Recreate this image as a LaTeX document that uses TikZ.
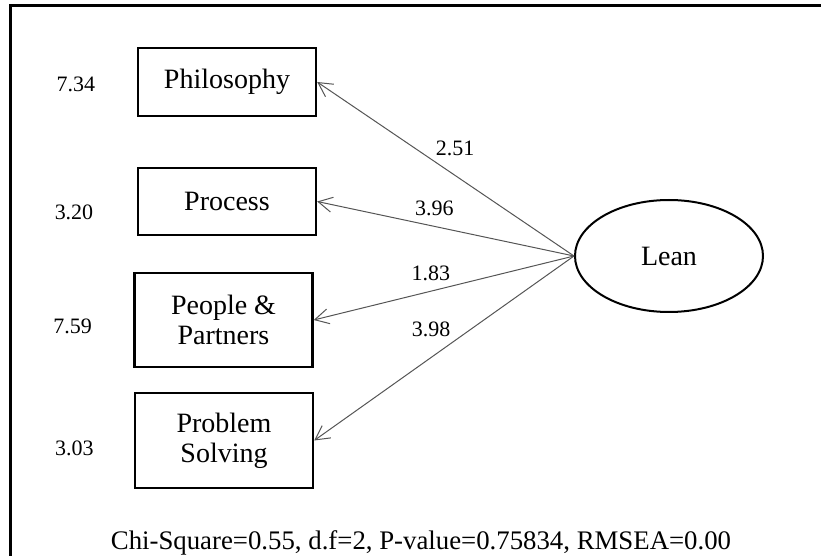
\documentclass[tikz,border=0pt]{standalone}
\usepackage{fontspec}
\setmainfont{Liberation Serif}
\usepackage{tikz}
\usetikzlibrary{arrows.meta, shapes.geometric}
\definecolor{pathgray}{RGB}{85, 85, 85}

\begin{document}
\begin{tikzpicture}[x=0.5pt, y=-0.5pt,
    obsbox/.style={draw, line width=1.2pt, minimum width=89pt, align=center,
        inner sep=0pt, font=\fontsize{14}{15}\selectfont},
    latent/.style={draw, ellipse, line width=1pt, minimum width=94pt,
        minimum height=56pt, inner sep=0pt, font=\fontsize{14}{15}\selectfont},
    errlabel/.style={inner sep=0pt, font=\fontsize{11}{13}\selectfont},
    loading/.style={draw=pathgray, line width=0.5pt,
        -{Straight Barb[length=7pt, width=7.5pt]}}]
    \useasboundingbox (0,0) rectangle (821,556);

    % frame (left and top only)
    \draw[line width=1.5pt] (10,556) -- (10,6) -- (821,6);

    % observed variables
    \node[obsbox, minimum height=34pt] (philo) at (227,82) {Philosophy};
    \node[obsbox, minimum height=33.5pt] (proc) at (227,201.5) {Process};
    \node[obsbox, minimum height=47pt] (people) at (223.5,320) {People \&\\Partners};
    \node[obsbox, minimum height=47.5pt] (prob) at (224,440.5) {Problem\\Solving};

    % error variances
    \foreach \n/\x/\y/\t in {1/76/84/7.34, 2/74/212.5/3.20, 3/72.5/326.5/7.59, 4/74.5/448/3.03}
        \node[errlabel] (err\n) at (\x,\y) {\t};

    % latent factor
    \node[latent] (lean) at (669,256) {Lean};

    % loadings
    \draw[loading] (lean.west) -- node[errlabel, pos=0.463, above=9.5pt] (l1) {2.51} (philo.east);
    \draw[loading] (lean.west) -- node[errlabel, pos=0.544, above=5pt] (l2) {3.96} (proc.east);
    \draw[loading] (lean.west) -- node[errlabel, pos=0.55, above=4.9pt] (l3) {1.83} (people.east);
    \draw[loading] (lean.west) -- node[errlabel, pos=0.55, above=10pt] (l4) {3.98} (prob.east);

    % fit statistics
    \node[anchor=base, inner sep=0pt, font=\fontsize{13.4}{15}\selectfont] (fit) at (421,550)
        {Chi-Square=0.55, d.f=2, P-value=0.75834, RMSEA=0.00};
\end{tikzpicture}
\end{document}
